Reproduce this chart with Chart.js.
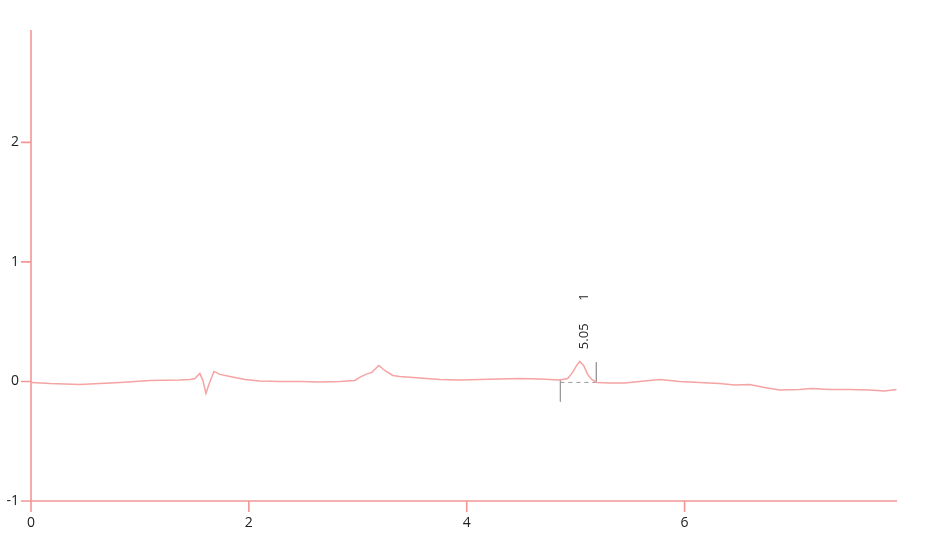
<!DOCTYPE html>
<html>
<head>
<meta charset="utf-8">
<script src="https://cdn.jsdelivr.net/npm/chart.js@4/dist/chart.umd.min.js"></script>
<style>
  html, body { margin: 0; padding: 0; background: #fff; }
  #wrap { width: 934px; height: 550px; }
</style>
</head>
<body>
<div id="wrap"><canvas id="trace"></canvas></div>
<script>
// trace samples
const times = [0.00, 0.174, 0.450, 0.633, 0.817, 1.092, 1.367, 1.459, 1.505, 1.550, 1.578, 1.606, 1.633, 1.679, 1.734, 1.826, 1.963,
  2.101, 2.284, 2.468, 2.651, 2.835, 2.972, 3.018, 3.073, 3.128, 3.193, 3.248, 3.321, 3.385, 3.569, 3.752, 3.936,
  4.119, 4.303, 4.486, 4.670, 4.853, 4.927, 4.972, 5.009, 5.037, 5.073, 5.110, 5.147, 5.193, 5.312, 5.450, 5.587,
  5.771, 5.954, 6.138, 6.321, 6.459, 6.596, 6.734, 6.872, 7.055, 7.165, 7.330, 7.514, 7.697, 7.835, 7.945];
const signal = [-0.008, -0.017, -0.025, -0.017, -0.008, 0.008, 0.013, 0.017, 0.025, 0.067, 0.008, -0.101, -0.025, 0.084, 0.059, 0.042, 0.017,
  0.004, 0.000, 0.000, -0.004, 0.000, 0.008, 0.034, 0.059, 0.076, 0.134, 0.092, 0.050, 0.042, 0.029, 0.017, 0.013,
  0.017, 0.021, 0.025, 0.021, 0.013, 0.025, 0.076, 0.134, 0.168, 0.134, 0.059, 0.017, -0.008, -0.013, -0.013, 0.000,
  0.017, 0.000, -0.008, -0.017, -0.029, -0.025, -0.050, -0.071, -0.067, -0.059, -0.067, -0.067, -0.071, -0.080, -0.067];

// integrated peak
const peakTime = 5.05;
const peakLabel = "5.05";
const peakNumber = "1";
const peakStart = [4.86, 0.017, -0.168];   // time, top, bottom of start marker
const peakEnd = [5.19, 0.16, -0.008];      // time, top, bottom of end marker
const baseline = [[4.86, -0.008], [5.19, -0.008]];

const xTicks = [0, 2, 4, 6];
const yTicks = [-1, 0, 1, 2];

const pink = "#f5a3a3";
const axisPink = "#f29696";
const grey = "#9a9a9a";
const font = "'Open Sans', sans-serif";

const seg = (pts, dash) => ({
  data: pts.map(p => ({ x: p[0], y: p[1] })),
  borderColor: grey, borderWidth: 1, borderDash: dash || [],
  pointRadius: 0, fill: false, tension: 0
});

// pink axis lines and tick marks
const axes = {
  id: "axes",
  beforeDatasetsDraw(chart) {
    const { ctx, chartArea: a, scales } = chart;
    ctx.save();
    ctx.strokeStyle = axisPink;
    ctx.lineWidth = 1.6;
    ctx.beginPath();
    ctx.moveTo(a.left, a.top);
    ctx.lineTo(a.left, a.bottom);
    ctx.lineTo(a.right, a.bottom);
    xTicks.forEach(v => {
      const p = scales.x.getPixelForValue(v);
      ctx.moveTo(p, a.bottom);
      ctx.lineTo(p, a.bottom + 11);
    });
    yTicks.forEach(v => {
      const p = scales.y.getPixelForValue(v);
      ctx.moveTo(a.left, p);
      ctx.lineTo(a.left - 10, p);
    });
    ctx.stroke();
    ctx.restore();
  }
};

const peakText = {
  id: "peakText",
  afterDatasetsDraw(chart) {
    const { ctx, scales } = chart;
    const px = scales.x.getPixelForValue(peakTime);
    [[peakLabel, 0.378], [peakNumber, 0.706]].forEach(([txt, v]) => {
      ctx.save();
      ctx.fillStyle = "#222";
      ctx.font = "13px " + font;
      ctx.textAlign = "center";
      ctx.textBaseline = "middle";
      ctx.translate(px + 3, scales.y.getPixelForValue(v));
      ctx.rotate(-Math.PI / 2);
      ctx.fillText(txt, 0, 0);
      ctx.restore();
    });
  }
};

new Chart(document.getElementById("trace"), {
  type: "line",
  data: {
    datasets: [
      {
        data: times.map((t, i) => ({ x: t, y: signal[i] })),
        borderColor: pink, borderWidth: 1.5, pointRadius: 0, fill: false, tension: 0
      },
      seg([[peakStart[0], peakStart[1]], [peakStart[0], peakStart[2]]]),
      seg([[peakEnd[0], peakEnd[1]], [peakEnd[0], peakEnd[2]]]),
      seg(baseline, [4, 4])
    ]
  },
  options: {
    responsive: true,
    maintainAspectRatio: false,
    animation: false,
    events: [],
    layout: { padding: { top: 30, right: 37, left: 0, bottom: 0 } },
    plugins: { legend: { display: false }, tooltip: { enabled: false } },
    scales: {
      x: {
        type: "linear", min: 0, max: 7.95,
        afterFit(s) { s.height = 49; },
        afterBuildTicks(s) { s.ticks = xTicks.map(v => ({ value: v })); },
        border: { display: false },
        grid: { display: false, drawTicks: false },
        ticks: { color: "#222", padding: 14, maxRotation: 0, font: { family: font, size: 14 } }
      },
      y: {
        type: "linear", min: -1, max: 2.94,
        afterFit(s) { s.width = 31; },
        afterBuildTicks(s) { s.ticks = yTicks.map(v => ({ value: v })); },
        border: { display: false },
        grid: { display: false, drawTicks: false },
        ticks: { color: "#222", padding: 12, font: { family: font, size: 14 } }
      }
    }
  },
  plugins: [axes, peakText]
});
</script>
</body>
</html>
